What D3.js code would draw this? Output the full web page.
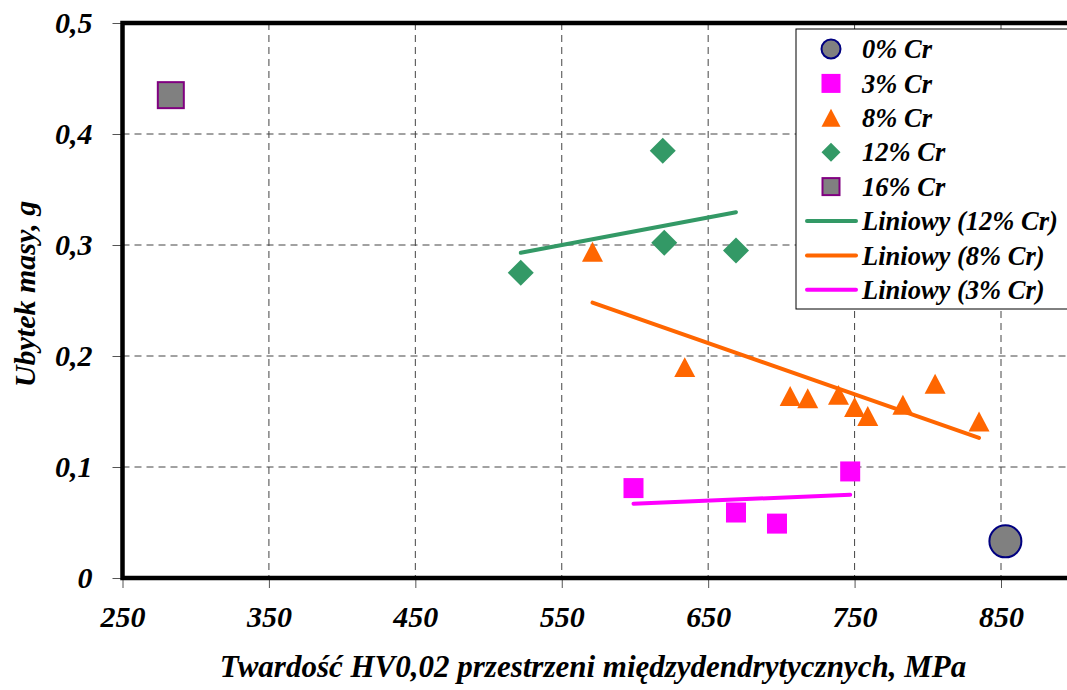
<!DOCTYPE html>
<html>
<head>
<meta charset="utf-8">
<script src="https://cdn.jsdelivr.net/npm/d3@7"></script>
<style>
    body { margin: 0; background: #fff; }
    svg text { font-family: "Liberation Serif", "Times New Roman", serif; font-weight: bold; font-style: italic; }
</style>
</head>
<body>
<svg id="chart" width="1067" height="690"></svg>
<script>
// data: hardness HV0,02 (MPa) vs mass loss (g)
const hv0 = [853];
const loss0 = [0.033];
const hv3 = [599, 669, 697, 747];
const loss3 = [0.081, 0.059, 0.049, 0.096];
const hv8 = [571, 634, 706, 718, 739, 750, 759, 783, 805, 835];
const loss8 = [0.294, 0.190, 0.164, 0.162, 0.165, 0.154, 0.146, 0.156, 0.175, 0.141];
const hv12 = [522, 619, 620, 669];
const loss12 = [0.275, 0.385, 0.302, 0.295];
const hv16 = [283];
const loss16 = [0.435];

const xTicks = [250, 350, 450, 550, 650, 750, 850];
const yTicks = [0, 0.1, 0.2, 0.3, 0.4, 0.5];
const xTitle = "Twardość HV0,02 przestrzeni międzydendrytycznych, MPa";
const yTitle = "Ubytek masy, g";

const GREEN = "#339966", ORANGE = "#FF6600", MAGENTA = "#FF00FF";

const margin = {left: 122.5, top: 23, bottom: 112};
const height = 690;

let svg = d3.select("#chart");

let x = d3.scaleLinear()
    .domain([250, 850])
    .range([margin.left, 1001]);
let y = d3.scaleLinear()
    .domain([0, 0.5])
    .range([height - margin.bottom, margin.top]);

function fmt(d) {
    return String(d).replace(".", ",");
}

// grid
let grid = svg.append("g");
grid.selectAll(".vgrid")
    .data(xTicks.slice(1))
    .join("line")
    .attr("x1", d => x(d)).attr("x2", d => x(d))
    .attr("y1", y(0.5)).attr("y2", y(0))
    .attr("stroke", "#444").attr("stroke-width", 1)
    .attr("stroke-dasharray", "7,5");
grid.selectAll(".hgrid")
    .data(yTicks.slice(1, -1))
    .join("line")
    .attr("x1", x(250)).attr("x2", x(900))
    .attr("y1", d => y(d)).attr("y2", d => y(d))
    .attr("stroke", "#444").attr("stroke-width", 1)
    .attr("stroke-dasharray", "7,5");

// axes (ticks + labels)
let xAxis = d3.axisBottom(x)
    .tickValues(xTicks)
    .tickSize(10)
    .tickPadding(18)
    .tickFormat(fmt);
let gx = svg.append("g")
    .attr("transform", `translate(0,${y(0)})`)
    .call(xAxis);
gx.select(".domain").remove();
gx.selectAll(".tick line").attr("stroke", "#555");
gx.selectAll(".tick text")
    .attr("font-size", 30)
    .attr("fill", "#000")
    .attr("dy", "0.71em");

let yAxis = d3.axisLeft(y)
    .tickValues(yTicks)
    .tickSize(10)
    .tickPadding(20)
    .tickFormat(fmt);
let gy = svg.append("g")
    .attr("transform", `translate(${x(250)},0)`)
    .call(yAxis);
gy.select(".domain").remove();
gy.selectAll(".tick line").attr("stroke", "#555");
gy.selectAll(".tick text")
    .attr("font-size", 30)
    .attr("fill", "#000");

// plot frame
svg.append("rect")
    .attr("x", x(250)).attr("y", y(0.5))
    .attr("width", x(900) - x(250))
    .attr("height", y(0) - y(0.5))
    .attr("fill", "none")
    .attr("stroke", "#000")
    .attr("stroke-width", 4.5);

// least squares trend line over the series range
function trend(xs, ys) {
    let mx = d3.mean(xs), my = d3.mean(ys);
    let sxy = d3.sum(xs, (v, i) => (v - mx) * (ys[i] - my));
    let sxx = d3.sum(xs, v => (v - mx) * (v - mx));
    let b = sxy / sxx, a = my - b * mx;
    let x0 = d3.min(xs), x1 = d3.max(xs);
    return [[x0, a + b * x0], [x1, a + b * x1]];
}

let trends = [
    {pts: trend(hv12, loss12), color: GREEN},
    {pts: trend(hv8, loss8), color: ORANGE},
    {pts: trend(hv3, loss3), color: MAGENTA}
];
svg.selectAll(".trend")
    .data(trends)
    .join("path")
    .attr("class", "trend")
    .attr("d", d => d3.line().x(p => x(p[0])).y(p => y(p[1]))(d.pts))
    .attr("stroke", d => d.color)
    .attr("stroke-width", 4)
    .attr("stroke-linecap", "round")
    .attr("fill", "none");

// marker shapes, centred on (cx, cy)
function marker(g, type, cx, cy, s) {
    if (type == "circle") {
        g.append("circle").attr("cx", cx).attr("cy", cy).attr("r", s / 2)
            .attr("fill", "#808080").attr("stroke", "#000080").attr("stroke-width", 2);
    } else if (type == "square") {
        g.append("rect").attr("x", cx - s / 2).attr("y", cy - s / 2)
            .attr("width", s).attr("height", s).attr("fill", MAGENTA);
    } else if (type == "square16") {
        g.append("rect").attr("x", cx - s / 2 + 1).attr("y", cy - s / 2 + 1)
            .attr("width", s - 2).attr("height", s - 2)
            .attr("fill", "#808080").attr("stroke", "#800080").attr("stroke-width", 2);
    } else if (type == "triangle") {
        let h = s * 0.95;
        g.append("path")
            .attr("d", `M${cx},${cy - h / 2}L${cx + s / 2},${cy + h / 2}L${cx - s / 2},${cy + h / 2}Z`)
            .attr("fill", ORANGE);
    } else if (type == "diamond") {
        g.append("path")
            .attr("d", `M${cx},${cy - s / 2}L${cx + s / 2},${cy}L${cx},${cy + s / 2}L${cx - s / 2},${cy}Z`)
            .attr("fill", GREEN);
    }
}

let series = [
    {name: "0% Cr", type: "circle", xs: hv0, ys: loss0, size: 32},
    {name: "3% Cr", type: "square", xs: hv3, ys: loss3, size: 20},
    {name: "8% Cr", type: "triangle", xs: hv8, ys: loss8, size: 21},
    {name: "12% Cr", type: "diamond", xs: hv12, ys: loss12, size: 26},
    {name: "16% Cr", type: "square16", xs: hv16, ys: loss16, size: 28}
];

let gPts = svg.append("g");
series.forEach(s => {
    s.xs.forEach((v, i) => marker(gPts, s.type, x(v), y(s.ys[i]), s.size));
});

// axis titles
svg.append("text")
    .attr("x", 593).attr("y", 677)
    .attr("text-anchor", "middle")
    .attr("font-size", 31)
    .text(xTitle);
svg.append("text")
    .attr("transform", "translate(35,294) rotate(-90)")
    .attr("text-anchor", "middle")
    .attr("font-size", 30)
    .text(yTitle);

// legend
let legend = svg.append("g");
legend.append("rect")
    .attr("x", 796).attr("y", 29)
    .attr("width", 300).attr("height", 280)
    .attr("fill", "#fff").attr("stroke", "#000").attr("stroke-width", 1);

let legendItems = series.map(s => ({name: s.name, type: s.type}))
    .concat([
        {name: "Liniowy (12% Cr)", line: GREEN},
        {name: "Liniowy (8% Cr)", line: ORANGE},
        {name: "Liniowy (3% Cr)", line: MAGENTA}
    ]);

legendItems.forEach((d, i) => {
    let cy = 49 + i * 34.4;
    if (d.line) {
        legend.append("line")
            .attr("x1", 807).attr("x2", 856)
            .attr("y1", cy).attr("y2", cy)
            .attr("stroke", d.line).attr("stroke-width", 4)
            .attr("stroke-linecap", "round");
    } else {
        marker(legend, d.type, 831, cy, 19);
    }
    legend.append("text")
        .attr("x", 862).attr("y", cy)
        .attr("dy", "0.35em")
        .attr("font-size", 26.5)
        .text(d.name);
});
</script>
</body>
</html>
